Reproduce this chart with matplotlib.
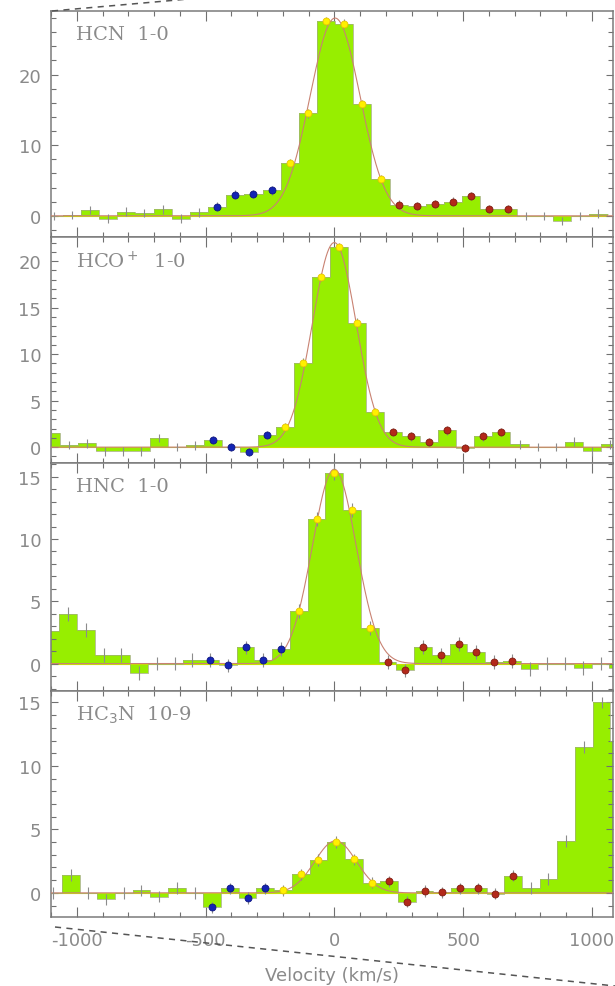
import numpy as np
import matplotlib
matplotlib.use("Agg")
import matplotlib.pyplot as plt
from matplotlib.lines import Line2D
from matplotlib.ticker import MultipleLocator

plt.rcParams['font.family'] = ['DejaVu Sans']
plt.rcParams['axes.unicode_minus'] = False

# ---------------------------------------------------------------------------
# Spectra (T_mb per channel).  Channel k has centre v0 + k*dv, k = k_first ...
# Flags per channel: '-' plain, 'b' blue wing, 'y' line core, 'r' red wing
# ---------------------------------------------------------------------------
line_names = ["HCN  1-0", "HCO$^+$  1-0", "HNC  1-0", "HC$_3$N  10-9"]

hcn_v0, hcn_dv, hcn_kfirst = -32.0, 70.5, -15
hcn_tmb = [0.0, 0.1, 0.8, -0.4, 0.6, 0.4, 0.9, -0.4, 0.5,
           1.3, 3.0, 3.1, 3.6,
           7.5, 14.5, 27.6, 27.2, 15.8, 5.2,
           1.6, 1.4, 1.7, 2.0, 2.8, 1.0, 1.0,
           0.0, 0.0, -0.7, 0.0, 0.3]
hcn_flag = "---------bbbbyyyyyyrrrrrrr-----"

hco_v0, hco_dv, hco_kfirst = 19.0, 70.0, -16
hco_tmb = [1.5, 0.25, 0.4, -0.45, -0.45, -0.45, 1.0, 0.0, 0.2,
           0.8, 0.05, -0.5, 1.3,
           2.2, 9.1, 18.3, 21.5, 13.4, 3.8,
           1.6, 1.15, 0.55, 1.8, -0.1, 1.15, 1.6,
           0.3, 0.0, 0.0, 0.6, -0.45, 0.3]
hco_flag = "---------bbbbyyyyyyrrrrrrr------"

hnc_v0, hnc_dv, hnc_kfirst = 0.0, 68.9, -16
hnc_tmb = [2.6, 4.0, 2.7, 0.7, 0.7, -0.75, 0.0, 0.0, 0.3,
           0.3, -0.15, 1.3, 0.3, 1.15,
           4.2, 11.6, 15.3, 12.3, 2.85,
           0.1, -0.55, 1.35, 0.7, 1.6, 0.95, 0.15, 0.2,
           -0.45, 0.0, 0.0, -0.35, 0.0, -0.35]
hnc_flag = "---------bbbbbyyyyyrrrrrrrr------"

hc3n_v0, hc3n_dv, hc3n_kfirst = 7.0, 68.7, -16
hc3n_tmb = [0.0, 1.4, 0.0, -0.5, 0.0, 0.2, -0.3, 0.4, 0.0,
            -1.15, 0.35, -0.4, 0.35,
            0.2, 1.45, 2.6, 4.0, 2.65, 0.8,
            0.9, -0.7, 0.15, 0.05, 0.35, 0.35, -0.05, 1.35,
            0.4, 1.1, 4.1, 11.5, 15.0, 12.0]
hc3n_flag = "---------bbbbyyyyyyrrrrrrrr------"

# channel rms noise (error bars)
noise = [0.6, 0.45, 0.55, 0.45]

# Gaussian fits to the line core: amplitude, centre, FWHM (km/s)
fit_amp = [28.0, 22.0, 15.6, 4.1]
fit_cen = [3.0, 0.0, 0.0, 5.0]
fit_fwhm = [228.0, 200.0, 200.0, 190.0]

# axis set-up per panel
y_limits = [(-3.0, 29.0), (-1.7, 22.6), (-2.2, 16.1), (-1.9, 15.9)]
y_major = [10, 5, 5, 5]
y_minor = [2, 1, 1, 1]
x_limits = (-1100, 1082)

spectra = [
    (hcn_v0, hcn_dv, hcn_kfirst, hcn_tmb, hcn_flag),
    (hco_v0, hco_dv, hco_kfirst, hco_tmb, hco_flag),
    (hnc_v0, hnc_dv, hnc_kfirst, hnc_tmb, hnc_flag),
    (hc3n_v0, hc3n_dv, hc3n_kfirst, hc3n_tmb, hc3n_flag),
]

FILL = "#97ee00"
DOT_STYLE = {
    "b": dict(mfc="#1424b4", mec="#0c1480"),
    "y": dict(mfc="#fff000", mec="#e8c400"),
    "r": dict(mfc="#b3291a", mec="#7e1a10"),
}
TXT = "#8a8a8a"

W, H = 615, 987
fig = plt.figure(figsize=(W / 100, H / 100), dpi=100)

panel_px = [(12, 238), (238, 464), (464, 692), (692, 918)]
left_px, right_px = 51, 613

axes = []
for i, (top, bot) in enumerate(panel_px):
    ax = fig.add_axes([left_px / W, 1 - bot / H, (right_px - left_px) / W, (bot - top) / H])
    axes.append(ax)

    v0, dv, kfirst, tmb, flag = spectra[i]
    tmb = np.asarray(tmb, dtype=float)
    k = np.arange(kfirst, kfirst + len(tmb))
    vel = v0 + k * dv
    edges = np.append(vel - dv / 2, vel[-1] + dv / 2)

    # histogram-style spectrum
    ax.stairs(tmb, edges, baseline=0, fill=True, color=FILL, lw=0, zorder=1)
    ax.stairs(tmb, edges, baseline=None, color="#a2b276", lw=0.55, zorder=2)
    ax.axhline(0, color="#c8e000", lw=0.8, zorder=1.5)

    # Gaussian fit
    vv = np.linspace(x_limits[0], x_limits[1], 800)
    sig = fit_fwhm[i] / 2.3548
    ax.plot(vv, fit_amp[i] * np.exp(-0.5 * ((vv - fit_cen[i]) / sig) ** 2),
            color="#c98272", lw=0.8, zorder=3)

    # error bars
    ax.errorbar(vel, tmb, yerr=noise[i], fmt="none", ecolor="#8c8c8c",
                elinewidth=0.8, capsize=0, zorder=3)

    # coloured channel markers
    flag_arr = np.array(list(flag))
    for key, st in DOT_STYLE.items():
        sel = flag_arr == key
        ax.plot(vel[sel], tmb[sel], "o", ms=5, mew=0.6, zorder=4, **st)

    ax.set_xlim(*x_limits)
    ax.set_ylim(*y_limits[i])
    ax.xaxis.set_major_locator(MultipleLocator(500))
    ax.xaxis.set_minor_locator(MultipleLocator(100))
    ax.yaxis.set_major_locator(MultipleLocator(y_major[i]))
    ax.yaxis.set_minor_locator(MultipleLocator(y_minor[i]))
    ax.tick_params(which="both", direction="in", top=True, right=True,
                   color="#707070", width=0.8)
    ax.tick_params(which="major", length=7)
    ax.tick_params(which="minor", length=3.5)
    ax.tick_params(axis="y", which="major", length=5)
    ax.tick_params(labelsize=13, labelcolor=TXT)
    ax.tick_params(axis="y", pad=7)
    ax.tick_params(axis="x", pad=10)
    if i < 3:
        ax.tick_params(labelbottom=False)
    for sp in ax.spines.values():
        sp.set_color("#7a7a7a")
        sp.set_linewidth(1.1)

    ax.text(0.044, 0.897, line_names[i], transform=ax.transAxes,
            ha="left", va="center", fontsize=14, color=TXT,
            family="DejaVu Serif")

axes[-1].set_xlabel("Velocity (km/s)", fontsize=13, color=TXT, labelpad=12)

# dashed guide lines running across the frame
def px_line(x0, y0, x1, y1):
    fig.add_artist(Line2D([x0 / W, x1 / W], [1 - y0 / H, 1 - y1 / H],
                          transform=fig.transFigure, color="#555555",
                          lw=1.1, ls=(0, (4, 3.5)), clip_on=False))

px_line(52, 12, 200, -1)
px_line(55, 928, 615, 987)

fig.savefig("out.png", dpi=100)
